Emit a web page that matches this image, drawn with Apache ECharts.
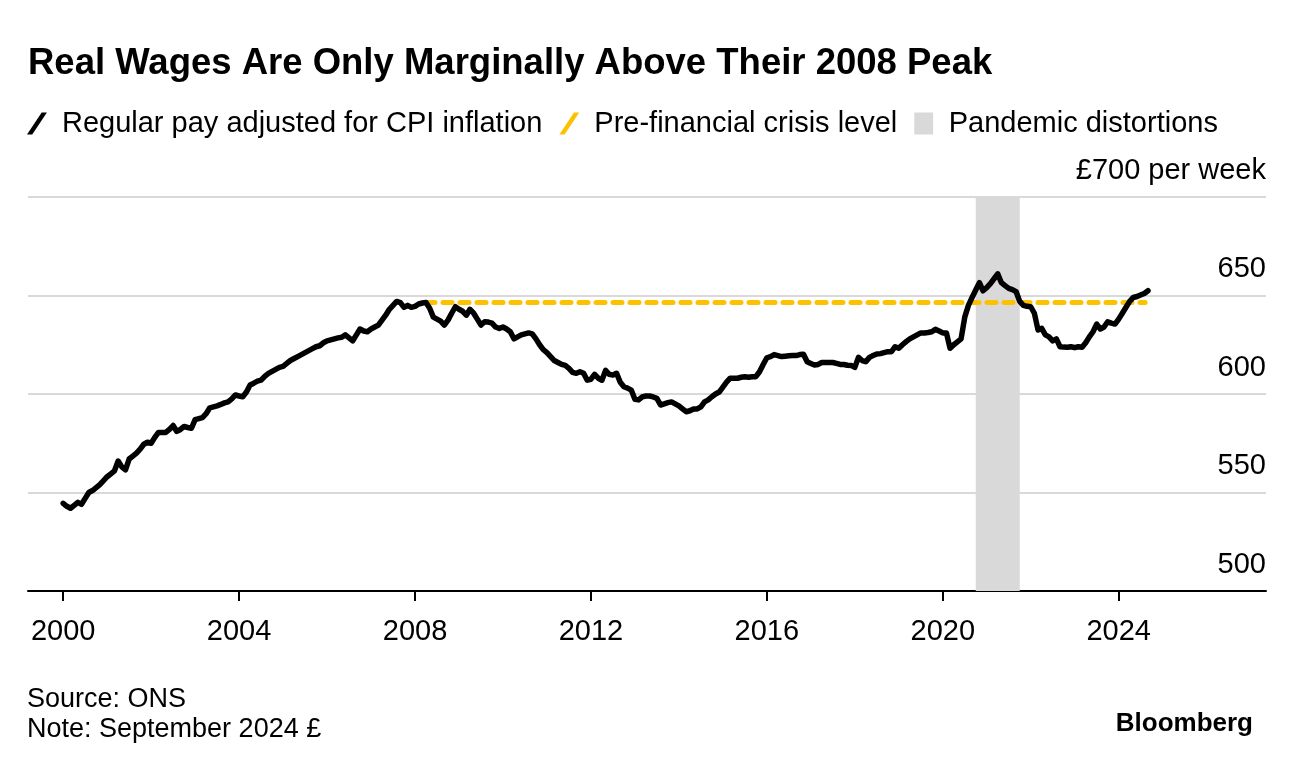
<!DOCTYPE html>
<html>
<head>
<meta charset="utf-8">
<script src="https://cdn.jsdelivr.net/npm/echarts@6/dist/echarts.min.js"></script>
<style>
html,body{margin:0;padding:0;background:#fff;}
#chart{width:1296px;height:768px;}
</style>
</head>
<body>
<div id="chart"></div>
<script>
// Monthly real regular pay (Sep 2024 £ per week), Jan 2000 .. Sep 2024
const startYear = 2000;
const regularPay = [
  544.5, 543, 542, 543.5, 545, 544, 547, 550, 551, 552.5, 554, 556,          // 2000
  558, 559.5, 561, 566, 563, 561.5, 567, 568.5, 570, 572, 574.5, 575.5,      // 2001
  575, 578, 580.5, 580.5, 580.5, 582, 584, 581, 582, 583.5, 583, 582.6,      // 2002
  587, 587.5, 588, 590, 593, 593.5, 594, 594.7, 595.5, 596, 597.5, 599.5,    // 2003
  599, 598.6, 601, 604.6, 605.5, 606.5, 607, 609, 610.5, 611.5, 612.5, 613.5,// 2004
  614, 615.5, 617, 618, 619, 620, 621, 622, 623, 624, 624.5, 626,            // 2005
  627, 627.5, 628, 628.5, 628.8, 630, 628.5, 627, 630, 633, 632, 631.6,      // 2006
  633, 634, 635, 637.5, 640, 643, 645, 647, 646.4, 644, 645, 644,            // 2007
  644.5, 645.7, 646.2, 646.4, 643.5, 639, 638, 637, 635, 637.5, 641, 644.3,  // 2008
  643, 642, 640, 643, 641, 638, 635, 636.7, 636.5, 636, 634, 633.3,          // 2009
  634, 633, 631.6, 628, 629, 630, 630.5, 631, 630.5, 628, 625, 622.5,        // 2010
  621, 619, 617, 616, 615, 614.5, 613, 611, 610.5, 611.3, 610.5, 607,        // 2011
  607.5, 610, 608, 607, 612, 610, 609.6, 610.5, 606, 603.7, 603, 602,        // 2012
  597.3, 597, 598.5, 599, 599, 598.5, 597.8, 594.4, 595, 595.6, 596, 595,    // 2013
  594, 592.5, 591, 591.5, 592.4, 592.4, 593.5, 596, 597, 598.6, 600, 601,    // 2014
  603.5, 606, 608, 608, 608, 608.5, 608.8, 608.5, 608.8, 608.8, 611.3, 615,  // 2015
  618.4, 619, 620, 619.5, 619, 619.2, 619.4, 619.5, 619.5, 620, 620.2, 616.4,// 2016
  615.5, 614.7, 615, 616, 616, 616, 616, 615.5, 615, 615, 614.6, 614.5,      // 2017
  613.5, 618.6, 617, 616.4, 618.6, 619.5, 620.3, 620.5, 621, 621.5, 621.5, 624, // 2018
  623.2, 625, 626.6, 628, 629, 630, 631, 631, 631.2, 631.6, 632.8, 632,      // 2019
  631, 631, 623.2, 625, 626.5, 628, 639, 645, 649, 652.8, 656.5, 652.4,      // 2020
  654, 656, 658.5, 661, 656.5, 655, 653.6, 653, 652, 647, 645, 644.5,        // 2021
  644.3, 641, 632.5, 633.3, 630, 629, 627, 628, 624, 623.8, 623.7, 624,      // 2022
  623.5, 624, 623.7, 626, 629, 631.6, 635.5, 633, 634, 636.7, 636, 635.5,    // 2023
  638, 641, 644, 647, 649, 649.5, 650.3, 651, 652.4                          // 2024
];
const preCrisisLevel = 646.4;
const preCrisisSpan = [2008.25, 2024.6];
const pandemicSpan = [2020.75, 2021.75];
const xTickYears = [2000, 2004, 2008, 2012, 2016, 2020, 2024];
const yTicks = [500, 550, 600, 650, 700];

const FONT = 'Liberation Sans, Arial, sans-serif';
const payData = regularPay.map((v, i) => [startYear + i / 12, v]);
const crisisData = preCrisisSpan.map(x => [x, preCrisisLevel]);

const chart = echarts.init(document.getElementById('chart'), null, {renderer: 'canvas'});
chart.setOption({
  animation: false,
  backgroundColor: '#fff',
  textStyle: {fontFamily: FONT},
  title: [
    {text: 'Real Wages Are Only Marginally Above Their 2008 Peak', left: 23, top: 40,
     textStyle: {fontFamily: FONT, fontSize: 36.5, fontWeight: 'bold', color: '#000'}},
    {text: 'Source: ONS\nNote: September 2024 £', left: 22, top: 680,
     textStyle: {fontFamily: FONT, fontSize: 27, fontWeight: 'normal', color: '#000', lineHeight: 30}},
    {text: 'Bloomberg', right: 38, top: 706,
     textStyle: {fontFamily: FONT, fontSize: 26, fontWeight: 'bold', color: '#000'}}
  ],
  legend: {
    left: 22, top: 104, itemGap: 17, itemWidth: 40, itemHeight: 22,
    selectedMode: false,
    textStyle: {fontFamily: FONT, fontSize: 29, color: '#000'},
    data: [
      {name: 'Regular pay adjusted for CPI inflation', icon: 'path://M14,0 L19,0 L5,21 L0,21 Z', itemStyle: {color: '#000'}},
      {name: 'Pre-financial crisis level', icon: 'path://M14,0 L19,0 L5,21 L0,21 Z', itemStyle: {color: '#fcc200'}},
      {name: 'Pandemic distortions', icon: 'path://M0,0 L18,0 L18,21 L0,21 Z', itemStyle: {color: '#d9d9d9'}}
    ]
  },
  grid: {left: 28, right: 30, top: 197, bottom: 177, containLabel: false},
  xAxis: {
    type: 'value', min: 1999.2, max: 2027.35,
    axisLine: {show: true, lineStyle: {color: '#000', width: 2}},
    axisTick: {show: true, customValues: xTickYears, length: 10, lineStyle: {color: '#000', width: 2}},
    axisLabel: {customValues: xTickYears, margin: 26, fontSize: 29, color: '#000', fontFamily: FONT,
                formatter: v => String(Math.round(v))},
    splitLine: {show: false}
  },
  yAxis: {
    type: 'value', position: 'right', min: 500, max: 700, interval: 50,
    axisLine: {show: false}, axisTick: {show: false},
    axisLabel: {inside: true, margin: 0, align: 'right', verticalAlign: 'bottom',
                fontSize: 29, lineHeight: 29, padding: [0, 0, 12, 0], color: '#000', fontFamily: FONT,
                formatter: v => v === 700 ? '£700 per week' : String(v)},
    splitLine: {show: true, lineStyle: {color: '#d9d9d9', width: 2}}
  },
  series: [
    {
      name: 'Pandemic distortions', type: 'line', data: [], color: '#d9d9d9',
      markArea: {silent: true, itemStyle: {color: '#d9d9d9'},
                 data: [[{xAxis: pandemicSpan[0]}, {xAxis: pandemicSpan[1]}]]},
      z: 1
    },
    {
      name: 'Pre-financial crisis level', type: 'line', data: crisisData, symbol: 'none', color: '#fcc200',
      lineStyle: {color: '#fcc200', width: 5, type: [9, 8], cap: 'round'}, z: 3
    },
    {
      name: 'Regular pay adjusted for CPI inflation', type: 'line', data: payData, symbol: 'none', color: '#000',
      lineStyle: {color: '#000', width: 5.5, join: 'round', cap: 'round'}, z: 4
    }
  ]
});
</script>
</body>
</html>
